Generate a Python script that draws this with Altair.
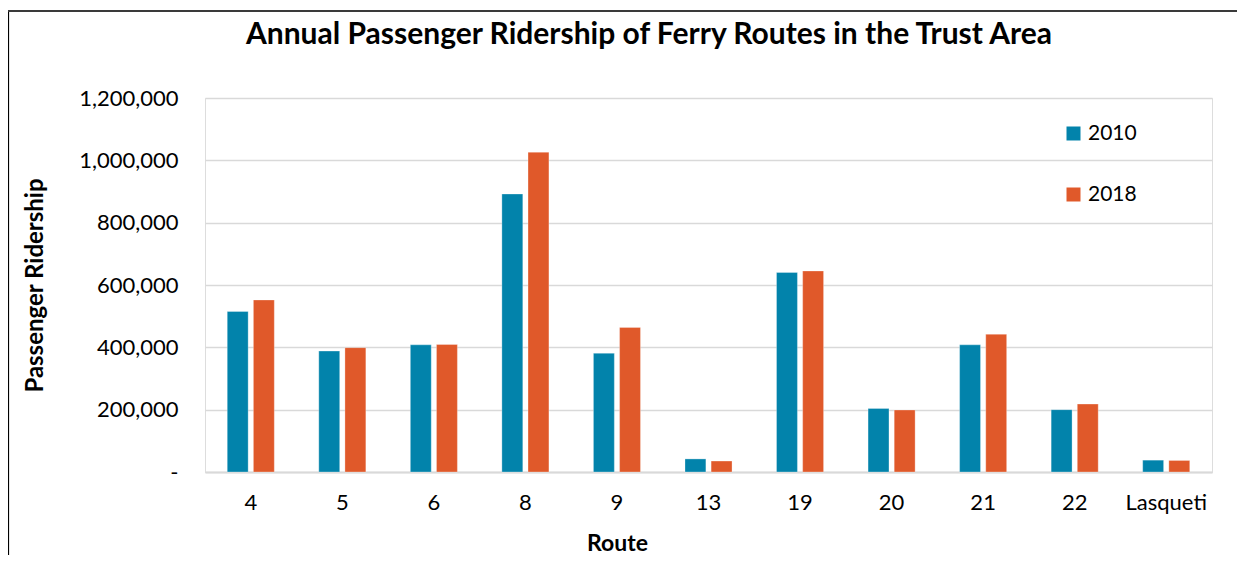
import altair as alt
import pandas as pd

routes = ["4", "5", "6", "8", "9", "13", "19", "20", "21", "22", "Lasqueti"]
riders_2010 = [515000, 388000, 408000, 892000, 381000, 42000, 640000, 204000, 408000, 200000, 38000]
riders_2018 = [552000, 399000, 409000, 1026000, 464000, 35000, 645000, 199000, 442000, 218000, 37000]
years = ["2010", "2018"]
colors = ["#0283AB", "#E0592A"]
y_ticks = [0, 200000, 400000, 600000, 800000, 1000000, 1200000]
title_text = "Annual Passenger Ridership of Ferry Routes in the Trust Area"

rows = []
for r, a, b in zip(routes, riders_2010, riders_2018):
    rows.append({"Route": r, "Year": "2010", "Riders": a})
    rows.append({"Route": r, "Year": "2018", "Riders": b})
df = pd.DataFrame(rows)

FONT = "Lato"
W, H = 1007, 374

bars = alt.Chart(df).mark_bar(stroke="white", strokeWidth=0.6, strokeOpacity=0.5).encode(
    x=alt.X("Route:N", sort=routes,
            scale=alt.Scale(paddingInner=0.486, paddingOuter=0.243),
            axis=alt.Axis(title="Route", labelAngle=0, labelFontSize=22, labelFont=FONT,
                          labelColor="#000", labelPadding=20, ticks=False,
                          domain=True, domainColor="#d9d9d9", domainWidth=2,
                          titleFont=FONT, titleFontSize=23, titleFontWeight="bold",
                          titleColor="#000", titleX=412, titleY=71,
                          titleBaseline="middle", titleAlign="center")),
    xOffset=alt.XOffset("Year:N", sort=years,
                        scale=alt.Scale(paddingInner=0.2, paddingOuter=0)),
    y=alt.Y("Riders:Q", scale=alt.Scale(domain=[0, 1200000], nice=False),
            axis=alt.Axis(title="Passenger Ridership", values=y_ticks,
                          labelExpr="datum.value == 0 ? '-\u00a0\u00a0\u00a0' : format(datum.value, ',')",
                          labelFontSize=22, labelFont=FONT, labelColor="#000",
                          labelPadding=27, ticks=False, domain=False,
                          grid=True, gridColor="#d9d9d9", gridWidth=1.6,
                          titleFont=FONT, titleFontSize=24, titleFontWeight="bold",
                          titleColor="#000", titleAngle=270, titleX=-170, titleY=187,
                          titleBaseline="middle", titleAlign="center")),
    color=alt.Color("Year:N", sort=years,
                    scale=alt.Scale(domain=years, range=colors),
                    legend=alt.Legend(title=None, orient="none", legendX=858, legendY=25,
                                      symbolType="square", symbolSize=196,
                                      symbolStrokeWidth=0, labelFontSize=21,
                                      labelFont=FONT, labelColor="#000",
                                      labelOffset=4, rowPadding=39, padding=0)),
)

frame = alt.Data(values=[{"k": 1}])
left_line = alt.Chart(frame).mark_rule(color="#000", strokeWidth=2.2).encode(
    x=alt.value(-197), y=alt.value(-87), y2=alt.value(457))
top_line = alt.Chart(frame).mark_rule(color="#3a3a3a", strokeWidth=2.2).encode(
    x=alt.value(-197), x2=alt.value(1040), y=alt.value(-87))
title_mark = alt.Chart(frame).mark_text(
    font=FONT, fontSize=30, fontWeight="bold", color="#000",
    align="center", baseline="alphabetic").encode(
    x=alt.value(444), y=alt.value(-54), text=alt.value(title_text))

chart = alt.layer(bars, left_line, top_line, title_mark).properties(
    width=W, height=H,
    autosize=alt.AutoSizeParams(type="none"),
    padding={"left": 197, "top": 90, "right": 25, "bottom": 83},
).configure_view(stroke=None).configure(background="white")

chart.save("out.html", embed_options={"renderer": "svg", "actions": False})
